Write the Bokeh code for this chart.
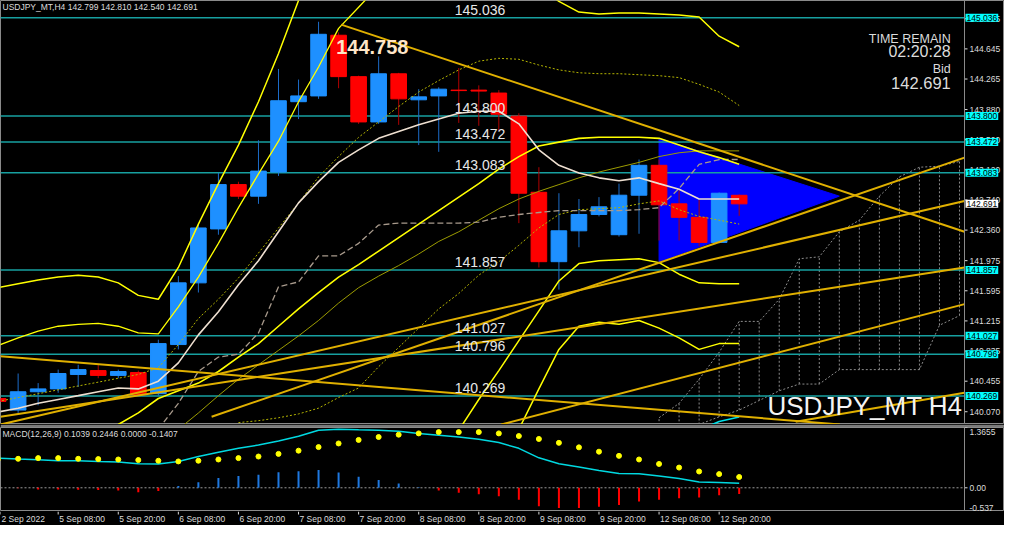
import math
from bokeh.plotting import figure
from bokeh.layouts import column
from bokeh.models import Range1d, Label, Span, ColumnDataSource
from bokeh.core.properties import value
from bokeh.embed import file_html
from bokeh.resources import INLINE

NaN = float("nan")

# ------------------------------------------------------------------ data
symbol = "USDJPY_MT"
timeframe = "H4"

# bar index 0 = 2 Sep 20:00 ... 37 = 13 Sep 00:00 (H4 bars)
open_p = [140.236, 140.091, 140.322, 140.358, 140.540, 140.589, 140.528, 140.565, 140.297, 140.917,
          141.695, 142.375, 142.934, 142.788, 143.092, 143.979, 144.052, 144.817, 144.295, 143.724,
          144.331, 144.003, 144.052, 144.125, 144.125, 144.088, 143.797, 142.837, 141.962, 142.351,
          142.557, 142.302, 142.800, 143.177, 142.691, 142.521, 142.205, 142.799]
high_p = [140.261, 140.552, 140.431, 140.601, 140.662, 140.662, 140.601, 140.589, 140.978, 141.780,
          142.424, 143.080, 142.970, 143.493, 144.392, 144.258, 144.987, 144.854, 144.307, 144.550,
          144.343, 144.137, 144.161, 144.404, 144.185, 144.125, 143.833, 143.153, 142.825, 142.752,
          142.776, 142.946, 143.250, 143.250, 142.861, 142.740, 142.837, 142.810]
low_p = [140.176, 140.054, 140.151, 140.309, 140.382, 140.492, 140.492, 140.273, 140.273, 140.856,
         141.573, 142.302, 142.752, 142.691, 143.043, 143.760, 144.015, 144.149, 143.699, 143.699,
         143.687, 143.432, 143.347, 143.712, 143.675, 143.614, 142.448, 141.889, 141.610, 142.144,
         142.533, 142.278, 142.314, 142.229, 142.229, 142.156, 142.193, 142.540]
close_p = [140.200, 140.322, 140.358, 140.552, 140.601, 140.528, 140.577, 140.285, 140.929, 141.695,
           142.387, 142.934, 142.788, 143.104, 143.991, 144.052, 144.829, 144.295, 143.724, 144.331,
           144.015, 144.040, 144.137, 144.119, 144.113, 143.821, 142.825, 141.962, 142.351, 142.557,
           142.654, 142.800, 143.177, 142.679, 142.521, 142.205, 142.825, 142.691]

ma_white = [140.067, 140.115, 140.176, 140.225, 140.273, 140.322, 140.370, 140.358, 140.455, 140.686,
            141.039, 141.330, 141.671, 141.974, 142.339, 142.703, 142.971, 143.214, 143.372, 143.517,
            143.603, 143.688, 143.760, 143.833, 143.858, 143.858, 143.700, 143.372, 143.177, 143.080,
            143.019, 142.983, 143.019, 142.946, 142.874, 142.752, 142.752, 142.752]
band_a = [141.634, 141.683, 141.731, 141.768, 141.792, 141.768, 141.695, 141.537, 141.488, 141.889,
          142.436, 142.946, 143.432, 143.979, 144.587, 145.255, 145.741, 146.106, 146.349, 146.470,
          146.531, 146.531, 146.470, 146.349, 146.166, 145.984, 145.741, 145.437, 145.243, 145.109,
          145.085, 145.097, 145.097, 145.085, 145.073, 145.048, 144.805, 144.672]
band_b = [140.905, 141.002, 141.087, 141.148, 141.172, 141.184, 141.148, 141.063, 141.051, 141.391,
          141.768, 142.193, 142.643, 143.068, 143.481, 143.979, 144.417, 144.903, 145.170, 145.437,
          145.680] + [NaN] * 17
band_c = [NaN] * 6 + [139.909, 140.055, 140.237, 140.334, 140.431, 140.577, 140.759, 140.929, 141.148,
                      141.367, 141.573, 141.768, 141.925, 142.096, 142.266, 142.436, 142.606, 142.776,
                      142.946, 143.129, 143.287, 143.420, 143.469, 143.517, 143.530, 143.530, 143.530,
                      143.517, 143.432, 143.347, 143.274, 143.189]
band_d = [NaN] * 9 + [139.848, 140.054, 140.273, 140.480, 140.662, 140.844, 141.026, 141.221, 141.440,
                      141.634, 141.780, 141.913, 142.059, 142.217, 142.339, 142.485, 142.630, 142.752,
                      142.849, 142.934, 143.019, 143.092, 143.153, 143.214, 143.287, 143.335, 143.359,
                      143.359, 143.359]
lower_1 = [NaN] * 23 + [139.836, 140.224, 140.589, 140.966, 141.342, 141.719, 141.938, 141.974, 141.986,
                        141.998, 141.950, 141.804, 141.695, 141.683, 141.683]
lower_2 = [NaN] * 25 + [139.544, 139.848, 140.358, 140.856, 141.148, 141.197, 141.172, 141.221, 141.124,
                        141.002, 140.856, 140.929, 140.929]
dot_upper = [140.200, 140.249, 140.297, 140.346, 140.395, 140.443, 140.492, 140.540, 140.625, 140.917,
             141.245, 141.488, 141.756, 142.071, 142.387, 142.703, 143.031, 143.287, 143.530, 143.724,
             143.918, 144.101, 144.246, 144.380, 144.490, 144.526, 144.514, 144.441, 144.380, 144.344,
             144.332, 144.332, 144.319, 144.307, 144.283, 144.198, 144.101, 143.931]
dot_lower = [NaN] * 12 + [139.933, 139.957, 139.994, 140.042, 140.115, 140.249, 140.370, 140.638, 140.881,
                          141.124, 141.367, 141.561, 141.792, 141.962, 142.169, 142.387, 142.557, 142.618,
                          142.630, 142.643, 142.691, 142.728, 142.618, 142.533, 142.485, 142.436]
kijun = [NaN] * 8 + [139.848, 140.176, 140.577, 140.759, 140.795, 141.063, 141.646, 141.707, 142.035,
                     142.035, 142.193, 142.424, 142.448, 142.448, 142.448, 142.448, 142.460, 142.521,
                     142.557, 142.582, 142.606, 142.606, 142.606, 142.606, 142.618, 142.643, 142.885,
                     143.189, 143.250, 143.250]
cyan_line = [NaN] * 35 + [139.840, 139.946, 140.004]

cloud_idx = list(range(33, 49))
cloud_upper = [139.994, 140.176, 140.480, 140.820, 141.209, 141.209, 141.488, 141.999, 142.023, 142.339,
               142.485, 142.788, 143.031, 143.153, 143.165, 143.226]
cloud_lower = [139.850, 139.848, 139.909, 140.006, 140.091, 140.212, 140.334, 140.419, 140.419, 140.601,
               140.601, 140.601, 140.601, 140.601, 141.160, 141.282]

triangle_x = [33, 33, 42]
triangle_y = [143.517, 141.962, 142.788]

trend_x0 = [17.13, 10.66, 0.12, 0.12, 0.12, 25.12, 39.82]
trend_y0 = [144.951, 140.006, 139.909, 140.006, 140.771, 139.909, 139.945]
trend_x1 = [48.25, 48.25, 48.25, 48.25, 42.03, 48.25, 48.25]
trend_y1 = [142.339, 143.274, 142.728, 141.889, 139.909, 141.427, 140.310]

levels = [145.036, 143.800, 143.472, 143.083, 141.857, 141.027, 140.796, 140.269]
bid = 142.691
high_mark = 144.758
high_mark_bar = 17

price_ticks = [145.025, 144.645, 144.265, 143.880, 143.500, 143.120, 142.740, 142.360, 141.975,
               141.595, 141.215, 140.835, 140.455, 140.070]

macd_line = [0.672, 0.650, 0.635, 0.613, 0.613, 0.597, 0.584, 0.546, 0.540, 0.597,
             0.708, 0.805, 0.894, 0.967, 1.062, 1.166, 1.305, 1.327, 1.314, 1.305,
             1.283, 1.232, 1.188, 1.150, 1.099, 1.026, 0.894, 0.679, 0.546, 0.473,
             0.392, 0.325, 0.319, 0.265, 0.208, 0.133, 0.119, 0.1039]
macd_signal = [0.650, 0.657, 0.672, 0.672, 0.657, 0.650, 0.641, 0.628, 0.613, 0.597,
               0.613, 0.641, 0.672, 0.708, 0.768, 0.841, 0.922, 1.004, 1.084, 1.150,
               1.203, 1.232, 1.261, 1.261, 1.261, 1.232, 1.172, 1.106, 1.018, 0.916,
               0.818, 0.723, 0.641, 0.540, 0.458, 0.369, 0.310, 0.2446]
macd_hist = [-0.020, -0.010, -0.040, -0.040, -0.045, -0.050, -0.060, -0.100, -0.070, 0.040,
             0.125, 0.220, 0.265, 0.295, 0.354, 0.376, 0.405, 0.347, 0.250, 0.177,
             0.096, 0.015, -0.060, -0.110, -0.147, -0.190, -0.273, -0.420, -0.457, -0.457,
             -0.428, -0.390, -0.310, -0.273, -0.236, -0.221, -0.170, -0.1407]
macd_top, macd_bottom = 1.3655, -0.537

tick_bars = [0.12, 3, 6, 9, 12, 15, 18, 21, 24, 27, 30, 33, 36]
tick_labels = ["2 Sep 2022", "5 Sep 08:00", "5 Sep 20:00", "6 Sep 08:00", "6 Sep 20:00", "7 Sep 08:00",
               "7 Sep 20:00", "8 Sep 08:00", "8 Sep 20:00", "9 Sep 08:00", "9 Sep 20:00",
               "12 Sep 08:00", "12 Sep 20:00"]

# ------------------------------------------------------------------ layout / styling
CW = 964            # chart area width (px)
SW = 40             # price scale strip width (px)
FW = CW + SW
FH, MH, XH = 424, 84, 14
X0, XB = 0.12, 48.25                  # visible bar range of the chart area
XEND = XB + SW * (XB - X0) / CW       # extend range over the price strip
FONT = "Liberation Sans"
TXT = "#dcdcdc"
LEVEL_COL = "#17a0a0"
GOLD = "#e0b000"
YEL = "#ffff00"
OLIVE = "#9c9c00"
GRID = "#8a8a8a"


def sx(xref):
    return xref * CW / 982.0


def sy(yref):
    return (440.0 - yref) * FH / 440.0


idx = list(range(len(open_p)))
xr = Range1d(X0, XEND)


def base_fig(h, yr, top=0):
    f = figure(frame_width=FW, frame_height=h, x_range=xr, y_range=yr, output_backend="svg",
               toolbar_location=None, x_axis_location=None, y_axis_location=None,
               background_fill_color="black", border_fill_color="#7a7a7a",
               min_border_left=0, min_border_right=0, min_border_top=top, min_border_bottom=0)
    f.grid.visible = False
    f.outline_line_color = GRID
    return f


p = base_fig(FH, Range1d(139.909, 145.255))

# blue triangle object
p.patch(triangle_x, triangle_y, fill_color="#0000ff", line_color="#0000ff")

# Ichimoku-like dotted cloud
p.segment(x0=cloud_idx, y0=cloud_lower, x1=cloud_idx, y1=cloud_upper,
          line_color="#8c8c8c", line_dash="2 2", line_width=1)
p.line(cloud_idx, cloud_upper, line_color="#8c8c8c", line_dash="2 2", line_width=1)
p.line(cloud_idx, cloud_lower, line_color="#8c8c8c", line_dash="2 2", line_width=1)

# horizontal levels (chart area only)
p.segment(x0=[X0] * len(levels), y0=levels, x1=[XB] * len(levels), y1=levels,
          line_color=LEVEL_COL, line_width=1.5)

# candles
up = [i for i in idx if close_p[i] >= open_p[i]]
dn = [i for i in idx if close_p[i] < open_p[i]]
for sel, body, wick in ((up, "#1e90ff", "#1c6cc8"), (dn, "#ff0000", "#b00000")):
    src = ColumnDataSource(dict(
        x=sel,
        hi=[high_p[i] for i in sel], lo=[low_p[i] for i in sel],
        top=[max(open_p[i], close_p[i]) for i in sel],
        bot=[min(open_p[i], close_p[i]) for i in sel]))
    p.segment(x0="x", y0="lo", x1="x", y1="hi", source=src, line_color=wick, line_width=1)
    p.vbar(x="x", width=0.78, top="top", bottom="bot", source=src,
           fill_color=body, line_color=body, line_width=1)

# indicators
p.line(idx, dot_upper, line_color="#b4b400", line_dash="2 2", line_width=1)
p.line(idx, dot_lower, line_color="#b4b400", line_dash="2 2", line_width=1)
p.line(idx, band_d, line_color=OLIVE, line_width=1)
p.line(idx, kijun, line_color="#a89a8c", line_dash="6 3", line_width=1.3)
p.line(idx, band_a, line_color=YEL, line_width=1.5)
p.line(idx, band_b, line_color=YEL, line_width=1.3)
p.line(idx, band_c, line_color=YEL, line_width=1.6)
p.line(idx, lower_1, line_color=YEL, line_width=1.5)
p.line(idx, lower_2, line_color=YEL, line_width=1.5)
p.line(idx, ma_white, line_color="#eedfd0", line_width=1.6)
p.line(idx, cyan_line, line_color="#00e0e8", line_width=1.5)

# trend lines
p.segment(x0=trend_x0, y0=trend_y0, x1=trend_x1, y1=trend_y1, line_color=GOLD, line_width=2)

# level texts
lvl_text_x = 22.8
p.text(x=[lvl_text_x] * len(levels), y=levels, text=[f"{v:.3f}" for v in levels],
       text_font=value(FONT), text_font_size="14px", text_color="#e8e8e8",
       text_baseline="bottom", text_align="left", y_offset=-3)

p.add_layout(Label(x=high_mark_bar - 0.12, y=high_mark, text=f"{high_mark:.3f}", text_font=FONT,
                   text_font_size="20px", text_font_style="bold", text_color="#ffe6c8",
                   text_baseline="top", text_align="left"))

# header / info texts (screen positioned like the terminal overlays)
p.add_layout(Label(x=2, y=sy(7), x_units="screen", y_units="screen", text_baseline="middle",
                   text=f"{symbol},{timeframe}  {open_p[-1]:.3f} {high_p[-1]:.3f} {low_p[-1]:.3f} {close_p[-1]:.3f}",
                   text_font=FONT, text_font_size="8.5px", text_color=TXT))
for txt, yref, size in (("TIME REMAIN", 40, "12.5px"), ("02:20:28", 53, "16px"), ("Bid", 71, "12.5px"),
                        (f"{bid:.3f}", 86, "16.5px")):
    p.add_layout(Label(x=sx(968), y=sy(yref), x_units="screen", y_units="screen", text=txt,
                       text_align="right", text_baseline="middle", text_font=FONT,
                       text_font_size=size, text_color=TXT))
p.add_layout(Label(x=sx(980), y=sy(421), x_units="screen", y_units="screen",
                   text=f"{symbol} {timeframe}", text_align="right", text_baseline="middle",
                   text_font=FONT, text_font_size="26px", text_color="#f4f4f4"))

# price scale strip
p.add_layout(Span(location=XB, dimension="height", line_color=GRID, line_width=1))
p.ray(x=[XB] * len(price_ticks), y=price_ticks, length=3, length_units="screen", angle=0,
      line_color=TXT, line_width=1)
p.text(x=[XB] * len(price_ticks), y=price_ticks, text=[f"{t:.3f}" for t in price_ticks],
       x_offset=5, text_baseline="middle", text_align="left", text_font=value(FONT),
       text_font_size="8.5px", text_color=TXT)
for v, bg in [(lv, "#00ffff") for lv in levels] + [(bid, "#ffffff")]:
    p.add_layout(Label(x=XB, y=v, x_offset=1, text=f"{v:.3f}", text_baseline="middle",
                       text_align="left", text_font=FONT, text_font_size="8.5px", text_color="black",
                       background_fill_color=bg, padding=1))

# ------------------------------------------------------------------ MACD panel
m = base_fig(MH, Range1d(macd_bottom, macd_top), top=3)
m.add_layout(Span(location=XB, dimension="height", line_color=GRID, line_width=1))
m.segment(x0=[X0], y0=[0], x1=[XB], y1=[0], line_color="#9a9a9a", line_dash="2 2", line_width=1)
pos = [i for i in idx if macd_hist[i] >= 0]
neg = [i for i in idx if macd_hist[i] < 0]
m.segment(x0=pos, y0=[0] * len(pos), x1=pos, y1=[macd_hist[i] for i in pos],
          line_color="#1e78e0", line_width=2)
m.segment(x0=neg, y0=[0] * len(neg), x1=neg, y1=[macd_hist[i] for i in neg],
          line_color="#ff0000", line_width=2)
m.line(idx, macd_line, line_color="#00d8e0", line_width=1.5)
m.scatter(idx, macd_signal, size=5, fill_color=YEL, line_color=YEL)
m.add_layout(Label(x=2, y=MH - 6, x_units="screen", y_units="screen", text_baseline="middle",
                   text=f"MACD(12,26,9) {macd_line[-1]:.4f} {macd_signal[-1]:.4f} 0.0000 {macd_hist[-1]:.4f}",
                   text_font=FONT, text_font_size="8.5px", text_color=TXT))
macd_ticks = [macd_top, 0.0, macd_bottom]
macd_tick_text = ["1.3655", "0.00", "-0.537"]
m.ray(x=[XB] * 3, y=macd_ticks, length=3, length_units="screen", angle=0, line_color=TXT, line_width=1)
m.text(x=[XB] * 3, y=macd_ticks, text=macd_tick_text, x_offset=5, y_offset=[4, 0, -4],
       text_baseline="middle", text_align="left", text_font=value(FONT), text_font_size="8.5px",
       text_color=TXT)

# ------------------------------------------------------------------ time scale
t = figure(frame_width=FW, frame_height=XH, x_range=xr, y_range=Range1d(0, 1), output_backend="svg",
           toolbar_location=None, x_axis_location=None, y_axis_location=None,
           background_fill_color="black", border_fill_color="black",
           min_border_left=0, min_border_right=0, min_border_top=0, min_border_bottom=0)
t.grid.visible = False
t.outline_line_color = None
t.ray(x=tick_bars, y=[1] * len(tick_bars), length=3, length_units="screen", angle=-math.pi / 2,
      line_color=TXT, line_width=1)
t.text(x=tick_bars, y=[0.45] * len(tick_bars), text=tick_labels, x_offset=1, text_baseline="middle",
       text_align="left", text_font=value(FONT), text_font_size="8.5px", text_color=TXT)

layout = column(p, m, t, spacing=0, background="black")
open("out.html", "w").write(file_html(layout, INLINE, title="USDJPY_MT H4"))
